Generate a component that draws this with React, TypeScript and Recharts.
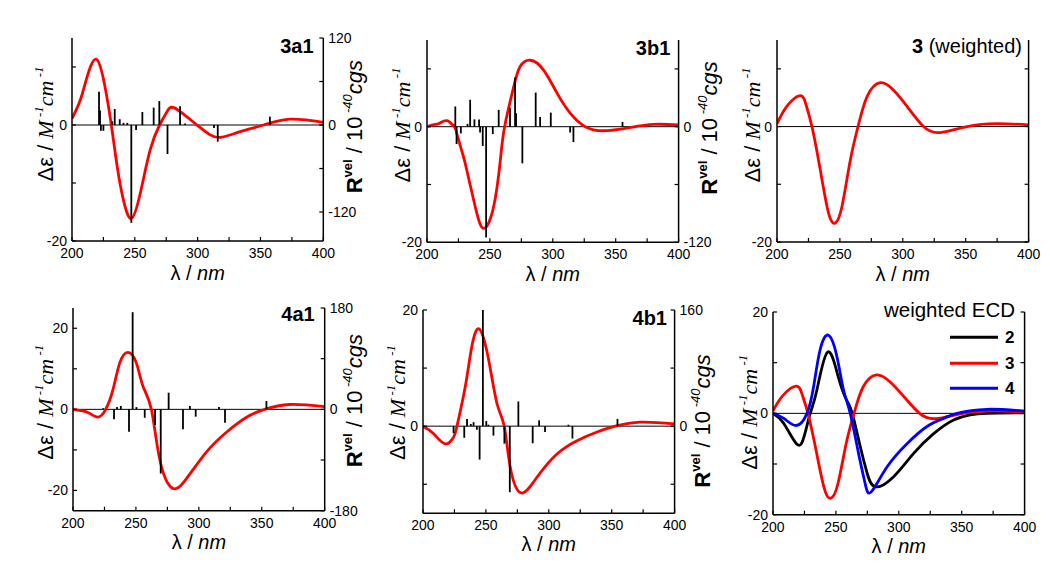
import React from 'react';
import { ComposedChart, Line, XAxis, YAxis, ReferenceLine, Legend } from 'recharts';

const SANS = '"Liberation Sans", Arial, Helvetica, sans-serif';
const SERIF = '"Liberation Serif", "Times New Roman", serif';

const xTicks = [200, 225, 250, 275, 300, 325, 350, 375, 400];
const xLabels = [200, 250, 300, 350, 400];

// ---- 3a1 ----
const wl3a1 = [200, 206.6, 212, 219.3, 226, 231.3, 236, 241, 247.2, 254.3, 262.2, 269.7, 275.6, 281, 291.5, 299.5, 310, 319.4, 334, 352.5, 373.7, 400];
const de3a1 = [1.1, 4.3, 8.3, 11.35, 6.9, 0, -7.2, -13, -16.1, -11.8, -4.3, 0, 2.3, 3.0, 1.4, 0, -1.7, -2.1, -1.15, 0, 1.0, 0.45];
const stickWl3a1 = [221.5, 222.3, 223, 225, 232, 234, 238, 241, 244, 247.2, 251, 256, 265, 269.5, 276, 286, 290, 313, 316, 357.5];
const stickR3a1 = [46, 20, -8, -8, 5, 22, 8, 3, 3, -135, -7, 18, 24, 33, -40, 26, 2, -4, -23, 11.5];

// ---- 3b1 ----
const wl3b1 = [200, 204.4, 210, 215.9, 221.7, 223.7, 229, 231.6, 238.3, 245, 253, 258.3, 261.7, 268.9, 274, 282.1, 292.7, 303.4, 314, 325.8, 340.4, 360, 380, 400];
const de3b1 = [0, 0.3, 0.6, 1.04, 0, -1.2, -5.2, -7.5, -13.8, -17.6, -13.8, -5.8, 0, 6.9, 10.4, 11.5, 9.8, 5.8, 2.3, 0, -0.7, -0.2, 0.4, 0.3];
const stickWl3b1 = [222.5, 223.5, 226.9, 232.2, 234.3, 237.7, 241.4, 242.2, 244.3, 247, 252.3, 257, 266, 270, 270.8, 275.8, 286.4, 289.9, 298.4, 313.8, 316.4, 355.4];
const stickR3b1 = [21, -18, -7, 3, 28, 7.6, 7.6, -6, -20, -115, -7.6, 17.4, 19.8, 51, 14, -38, 35.4, 10, 14.6, -6, -16, 5];

// ---- 3 (weighted) ----
const wl3 = [200, 207.8, 218.5, 223.2, 227.8, 234.4, 241, 246.4, 251.7, 258.3, 264.4, 271.6, 282.1, 292.7, 303.4, 316.5, 329.8, 351, 374.7, 400];
const de3 = [0.5, 3.5, 5.36, 3.7, 0, -7.5, -15, -16.7, -13.8, -5.8, 0, 5.2, 7.6, 6.3, 3.5, 0, -1.04, 0, 0.5, 0.3];

// ---- 4a1 ----
const wl4a1 = [200, 207.9, 213.2, 219.9, 226, 231.8, 237.1, 243.7, 250.4, 255.6, 262.3, 268.9, 278.7, 289.9, 305.8, 321.7, 337.6, 352.3, 372.2, 400];
const de4a1 = [0, -0.4, -1, -1.9, 0, 4.9, 11.4, 14.05, 11.4, 5.7, 0, -12.3, -19.4, -17.2, -10.6, -5.7, -2.0, 0, 1.2, 0.65];
const stickWl4a1 = [224, 232.6, 235, 238, 244.5, 247.4, 250.4, 257, 265.2, 269.7, 276, 287.4, 292.9, 297.5, 316, 320.8, 353.7];
const stickR4a1 = [2, -17.7, 4, 6, -40, 172.5, 4, -15, -28, -114, 29.6, -35.5, 6, -13, 4, -23.6, 14.8];

// ---- 4b1 ----
const wl4b1 = [200, 208.5, 217.7, 224.3, 227, 233.5, 238.8, 244.8, 252.2, 258.8, 264.6, 269.4, 278.1, 290.6, 306.5, 322.4, 338.3, 352.9, 372.8, 400];
const de4b1 = [0, -1.3, -3.05, -1.9, 0, 6.7, 13.7, 16.7, 11.4, 3.9, 0, -7.1, -11.5, -8.8, -4.8, -2.5, -1.0, 0, 0.7, 0.4];
const stickWl4b1 = [224.3, 232.8, 235, 238, 240.2, 242.8, 245, 247.6, 250.3, 252, 256, 264.7, 269, 275.8, 287.2, 292.3, 297, 315.6, 318.8, 354.6];
const stickR4b1 = [-9.7, -16, 10, 3, 5.5, -5, -46, 160, 7, 2, -13, -24, -91, 34, -23.5, 8, -8, 2, -17, 10];

// ---- weighted ECD: 2 and 4 ----
const wl2 = [200, 208.6, 219, 224.8, 229.6, 234.9, 243.4, 252.1, 258.7, 263, 269.4, 274.7, 281.3, 295.9, 311.8, 327.7, 343.6, 356.8, 370, 400];
const de2 = [0, -2, -6.1, -4.5, 0, 4.6, 12.1, 7, 2.5, 0, -6.6, -11.7, -14.5, -12.5, -7.9, -4, -1.3, -0.3, 0, 0.1];
const wl4 = [200, 208.6, 218.5, 227, 232.3, 237.5, 244.2, 250.8, 256.1, 261.4, 268, 273.3, 278.1, 290.6, 306.5, 322.4, 335.7, 346.2, 370, 400];
const de4 = [0, -1, -2.4, 0, 5.3, 12.6, 15.4, 11.2, 4.6, 0, -7.9, -13.9, -15.5, -10.6, -6, -2.6, -1, 0, 0.8, 0.45];

const RED = '#ff0000';
const BLACK = '#000000';
const BLUE = '#0000ff';

const PADL = 80, PADR = 90, PADT = 12, PADB = 50;

type Curve = { wl: number[]; de: number[]; color: string; name: string };
type PanelProps = {
  px: number; py: number; pw: number; ph: number;
  yDomain: [number, number]; yTicks: number[]; yLabels: number[];
  rDomain: [number, number]; rTicks: number[]; rLabels: number[];
  curves: Curve[];
  stickWl?: number[]; stickR?: number[];
  title: React.ReactNode; titleRight?: number; titleBase?: number;
  deX: number; deY: number;
  rX?: number; rY?: number;
  xTitleBase: number;
  legend?: boolean;
};

const toPts = (xs: number[], ys: number[]) => xs.map((x, i) => ({ x, y: ys[i] }));
const fmt = (labels: number[]) => (v: number) => (labels.includes(v) ? String(v) : '');

const Decor = (props: any) => {
  const { ox, oy, p } = props as { ox: number; oy: number; p: PanelProps };
  const dx = p.deX - ox, dy = p.deY - oy;
  const xt = p.px + p.pw / 2 - ox, xb = p.xTitleBase - oy;
  return (
    <g>
      <text x={xt} y={xb} textAnchor="middle" fill="#000" fontFamily={SANS} fontSize={20}>
        <tspan>λ / </tspan>
        <tspan fontStyle="italic">nm</tspan>
      </text>
      <text transform={`rotate(-90 ${dx} ${dy})`} x={dx} y={dy} textAnchor="middle" fill="#000">
        <tspan fontFamily={SANS} fontSize={22}>Δε / </tspan>
        <tspan fontFamily={SERIF} fontStyle="italic" fontSize={22}>M</tspan>
        <tspan fontFamily={SERIF} fontStyle="italic" fontSize={13} dy={-10}> -1</tspan>
        <tspan fontFamily={SERIF} fontStyle="italic" fontSize={22} dy={10}>cm</tspan>
        <tspan fontFamily={SERIF} fontStyle="italic" fontSize={13} dy={-10}> -1</tspan>
      </text>
      {p.rX !== undefined && p.rY !== undefined && (
        <text
          transform={`rotate(-90 ${p.rX - ox} ${p.rY - oy})`}
          x={p.rX - ox}
          y={p.rY - oy}
          textAnchor="middle"
          fill="#000"
          fontFamily={SANS}
        >
          <tspan fontWeight="bold" fontSize={22}>R</tspan>
          <tspan fontWeight="bold" fontSize={13} dy={-10}>vel</tspan>
          <tspan fontSize={22} dy={10}> / 10</tspan>
          <tspan fontStyle="italic" fontSize={13} dy={-10}> -40</tspan>
          <tspan fontStyle="italic" fontSize={22} dy={10}>cgs</tspan>
        </text>
      )}
      {p.titleRight !== undefined && p.titleBase !== undefined && (
        <text x={p.titleRight - ox} y={p.titleBase - oy} textAnchor="end" fill="#000" fontFamily={SANS} fontSize={20}>
          {p.title}
        </text>
      )}
    </g>
  );
};

const LegendBox = (props: any) => {
  const payload = (props.payload || []) as any[];
  const rows = [41.3, 67.3, 92.3];
  return (
    <svg width={160} height={104} style={{ overflow: 'visible' }}>
      <text x={150} y={20.5} textAnchor="end" fontFamily={SANS} fontSize={20.5} fill="#000">weighted ECD</text>
      {payload.map((e, i) => (
        <g key={i}>
          <line x1={85} x2={133} y1={rows[i]} y2={rows[i]} stroke={e.color} strokeWidth={3} />
          <text x={140} y={rows[i] + 6} fontFamily={SANS} fontWeight="bold" fontSize={17} fill="#000">{e.value}</text>
        </g>
      ))}
    </svg>
  );
};

function Panel(p: PanelProps) {
  const W = p.pw + PADL + PADR, H = p.ph + PADT + PADB;
  const ox = p.px - PADL, oy = p.py - PADT;
  const tickStyle = { fill: '#000', fontSize: 14, fontFamily: SANS };
  const axisLine = { stroke: '#000', strokeWidth: 1.5 };
  const tickLine = { stroke: '#000', strokeWidth: 1.2 };
  const sw = p.stickWl || [];
  const sr = p.stickR || [];
  return (
    <div style={{ position: 'absolute', left: ox, top: oy, width: W, height: H }}>
      <ComposedChart width={W} height={H} margin={{ top: PADT, right: 0, bottom: 0, left: 0 }}>
        <XAxis
          type="number"
          dataKey="x"
          domain={[200, 400]}
          ticks={xTicks}
          interval={0}
          allowDataOverflow
          tickFormatter={fmt(xLabels)}
          height={PADB}
          axisLine={axisLine}
          tickLine={tickLine}
          tickSize={-4}
          tickMargin={11}
          tick={tickStyle}
          label={<Decor ox={ox} oy={oy} p={p} />}
        />
        <YAxis
          yAxisId="left"
          type="number"
          domain={p.yDomain}
          ticks={p.yTicks}
          interval={0}
          allowDataOverflow
          tickFormatter={fmt(p.yLabels)}
          width={PADL}
          axisLine={axisLine}
          tickLine={tickLine}
          tickSize={-4}
          tickMargin={9}
          tick={tickStyle}
        />
        <YAxis
          yAxisId="right"
          orientation="right"
          type="number"
          domain={p.rDomain}
          ticks={p.rTicks}
          interval={0}
          allowDataOverflow
          tickFormatter={fmt(p.rLabels)}
          width={PADR}
          axisLine={axisLine}
          tickLine={tickLine}
          tickSize={-4}
          tickMargin={9}
          tick={{ ...tickStyle, textAnchor: 'start' }}
        />
        <ReferenceLine yAxisId="left" y={0} stroke="#000" strokeWidth={1} />
        {p.curves.map((c, i) => (
          <Line
            key={i}
            yAxisId="left"
            data={toPts(c.wl, c.de)}
            dataKey="y"
            name={c.name}
            type="natural"
            stroke={c.color}
            strokeWidth={2.8}
            dot={false}
            activeDot={false}
            isAnimationActive={false}
          />
        ))}
        {sw.map((x, i) => (
          <ReferenceLine
            key={'s' + i}
            yAxisId="right"
            segment={[{ x, y: 0 }, { x, y: sr[i] }]}
            stroke="#000"
            strokeWidth={1.8}
            ifOverflow="visible"
          />
        ))}
        {p.legend && (
          <Legend
            layout="vertical"
            align="center"
            verticalAlign="middle"
            content={<LegendBox />}
            wrapperStyle={{ left: 865 - ox, top: 296 - oy, width: 160, height: 104 }}
          />
        )}
      </ComposedChart>
    </div>
  );
}

export default function App() {
  return (
    <div style={{ position: 'absolute', left: 0, top: 0, width: 1050, height: 564, overflow: 'hidden', background: '#fff' }}>
      <Panel
        px={71.7} py={38} pw={251.3} ph={203}
        yDomain={[-20, 15]} yTicks={[10, 0, -10, -20]} yLabels={[0, -20]}
        rDomain={[-160, 120]} rTicks={[120, 60, 0, -60, -120]} rLabels={[120, 0, -120]}
        curves={[{ wl: wl3a1, de: de3a1, color: RED, name: '3a1' }]}
        stickWl={stickWl3a1} stickR={stickR3a1}
        title={<tspan fontWeight="bold">3a1</tspan>} titleRight={313.3} titleBase={53.3}
        deX={53} deY={124} rX={362} rY={126.7} xTitleBase={280}
      />
      <Panel
        px={426.7} py={40} pw={251.6} ph={202.3}
        yDomain={[-20, 15]} yTicks={[10, 0, -10, -20]} yLabels={[0, -20]}
        rDomain={[-120, 90]} rTicks={[60, 0, -60, -120]} rLabels={[0, -120]}
        curves={[{ wl: wl3b1, de: de3b1, color: RED, name: '3b1' }]}
        stickWl={stickWl3b1} stickR={stickR3b1}
        title={<tspan fontWeight="bold">3b1</tspan>} titleRight={670} titleBase={55}
        deX={410} deY={125} rX={717} rY={128} xTitleBase={281}
      />
      <Panel
        px={776.7} py={40} pw={251.6} ph={202}
        yDomain={[-20, 15]} yTicks={[10, 0, -10, -20]} yLabels={[0, -20]}
        rDomain={[-20, 15]} rTicks={[10, 0, -10, -20]} rLabels={[]}
        curves={[{ wl: wl3, de: de3, color: RED, name: '3' }]}
        title={<><tspan fontWeight="bold">3</tspan><tspan> (weighted)</tspan></>} titleRight={1021.7} titleBase={53}
        deX={760} deY={125} xTitleBase={281}
      />
      <Panel
        px={73.3} py={308.3} pw={251.7} ph={202.7}
        yDomain={[-25, 25]} yTicks={[20, 10, 0, -10, -20]} yLabels={[20, 0, -20]}
        rDomain={[-180, 180]} rTicks={[180, 90, 0, -90, -180]} rLabels={[180, 0, -180]}
        curves={[{ wl: wl4a1, de: de4a1, color: RED, name: '4a1' }]}
        stickWl={stickWl4a1} stickR={stickR4a1}
        title={<tspan fontWeight="bold">4a1</tspan>} titleRight={315} titleBase={321.7}
        deX={53} deY={402.5} rX={362} rY={401} xTitleBase={549}
      />
      <Panel
        px={422.7} py={310} pw={251.6} ph={203.3}
        yDomain={[-15, 20]} yTicks={[20, 10, 0, -10]} yLabels={[20, 0]}
        rDomain={[-120, 160]} rTicks={[160, 80, 0, -80]} rLabels={[160, 0]}
        curves={[{ wl: wl4b1, de: de4b1, color: RED, name: '4b1' }]}
        stickWl={stickWl4b1} stickR={stickR4b1}
        title={<tspan fontWeight="bold">4b1</tspan>} titleRight={666.7} titleBase={325}
        deX={405} deY={402.5} rX={710} rY={421} xTitleBase={551}
      />
      <Panel
        px={772.7} py={312.3} pw={251.6} ph={202.7}
        yDomain={[-20, 20]} yTicks={[20, 10, 0, -10, -20]} yLabels={[20, 0, -20]}
        rDomain={[-20, 20]} rTicks={[20, 10, 0, -10, -20]} rLabels={[]}
        curves={[
          { wl: wl2, de: de2, color: BLACK, name: '2' },
          { wl: wl3, de: de3, color: RED, name: '3' },
          { wl: wl4, de: de4, color: BLUE, name: '4' },
        ]}
        title={null}
        deX={757} deY={412.5} xTitleBase={553}
        legend
      />
    </div>
  );
}
